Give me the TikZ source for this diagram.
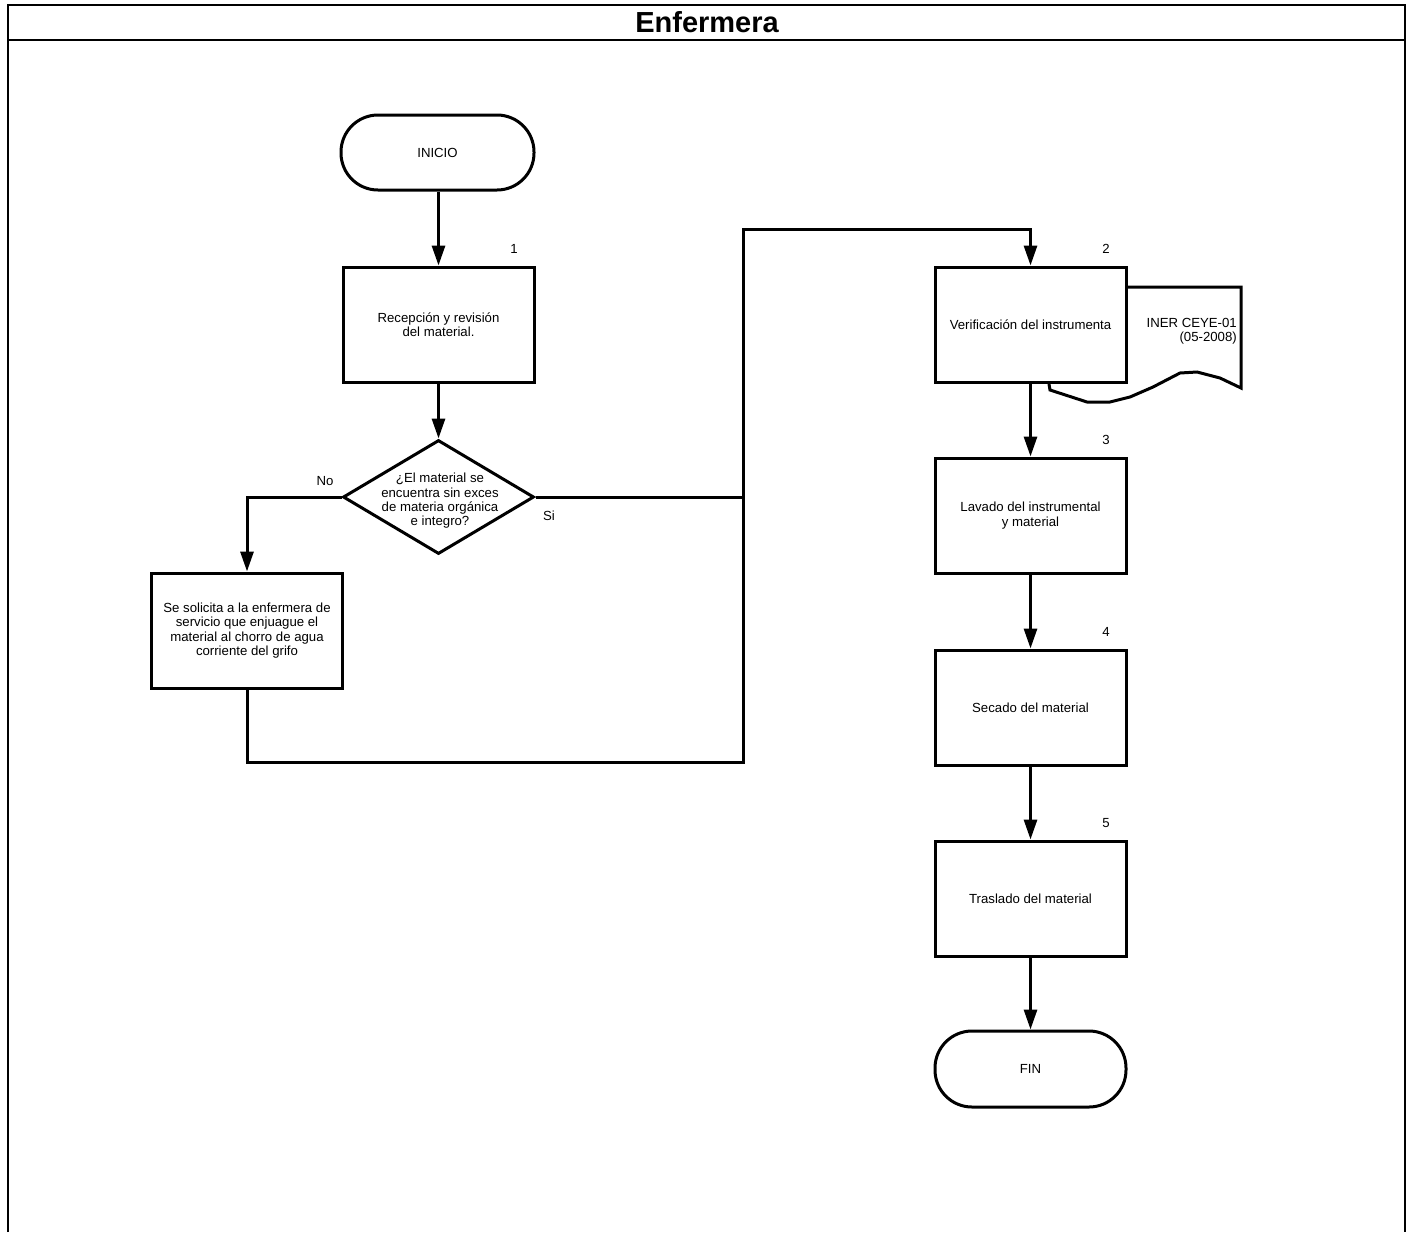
\documentclass[tikz,border=0pt]{standalone}
\usepackage{fontspec}
\setmainfont{Liberation Sans}
\usetikzlibrary{arrows.meta,shapes.geometric}
\begin{document}
\begin{tikzpicture}[x=1pt,y=-1pt,
  every node/.style={font=\fontsize{13.2}{14.3}\selectfont},
  procbox/.style={draw,line width=3pt,fill=white,minimum width=191pt,minimum height=115pt,inner sep=0pt,align=center},
  termbox/.style={draw,line width=3pt,fill=white,rounded corners=37pt,minimum width=193pt,minimum height=75pt,inner sep=0pt},
  decision/.style={draw,line width=3pt,fill=white,diamond,minimum width=191pt,minimum height=114pt,inner sep=0pt},
  conn/.style={line width=3pt},
  arr/.style={conn,-{Triangle[length=20pt,width=13pt]}},
  frameline/.style={line width=2pt},
  txt/.style={align=center,inner sep=0pt}
]
\useasboundingbox (0,0) rectangle (1412,1232);
% frame
\draw[frameline] (8,1232) -- (8,5) -- (1405,5) -- (1405,1232);
\draw[frameline] (8,39.5) -- (1405,39.5);
\node[font=\fontsize{29}{32}\selectfont\bfseries] (title) at (707,22) {Enfermera};

% document shape (behind box 2)
\draw[line width=3pt,fill=white] (1127,287) -- (1241,287) -- (1241,388) -- (1220,378) -- (1197,372) -- (1180,373) -- (1153,387) -- (1130,397) -- (1110,402) -- (1087,402) -- (1050,390) -- (1049,384) -- (1049,300) -- cycle;
\node[txt,align=right,anchor=east] (doc) at (1237,331) {INER CEYE-01\\(05-2008)};

% nodes
\node[termbox] (ini) at (437.5,152.5) {INICIO};
\node[procbox] (b1) at (438.5,324.5) {Recepción y revisión\\del material.};
\node[decision] (dec) at (438.5,497) {};
\node[txt] (dectxt) at (440,501) {¿El material se\\encuentra sin exces\\de materia orgánica\\e integro?};
\node[procbox] (bno) at (247,630.5) {Se solicita a la enfermera de\\servicio que enjuague el\\material al chorro de agua\\corriente del grifo};
\node[procbox] (b2) at (1030.5,324.5) {Verificación del instrumenta};
\node[procbox] (b3) at (1030.5,515.5) {Lavado del instrumental\\y material};
\node[procbox] (b4) at (1030.5,707.5) {Secado del material};
\node[procbox] (b5) at (1030.5,898.5) {Traslado del material};
\node[termbox,minimum width=191pt,minimum height=76pt] (fin) at (1030.5,1069) {FIN};

% step numbers
\node (n1) at (514,249) {1};
\node (n2) at (1106,249) {2};
\node (n3) at (1106,440) {3};
\node (n4) at (1106,632) {4};
\node (n5) at (1106,823) {5};
\node (lno) at (325,481) {No};
\node (lsi) at (549,516) {Si};

% junction coordinates
\coordinate (jtop) at (743,229);
\coordinate (jbot) at (743,762);
\coordinate (jsi) at (743,497);
\coordinate (jno) at (247,497);

% connectors
\draw[arr] (ini.south -| b1.north) -- (b1);
\draw[arr] (b1) -- (dec);
\draw[arr] (dec.west) -- (jno) -- (bno.north);
\draw[conn] (dec.east) -- (jsi);
\draw[arr] (bno.south) |- (jbot) -- (jtop) -| (b2.north);
\draw[arr] (b2) -- (b3);
\draw[arr] (b3) -- (b4);
\draw[arr] (b4) -- (b5);
\draw[arr] (b5) -- (fin);
\end{tikzpicture}
\end{document}
